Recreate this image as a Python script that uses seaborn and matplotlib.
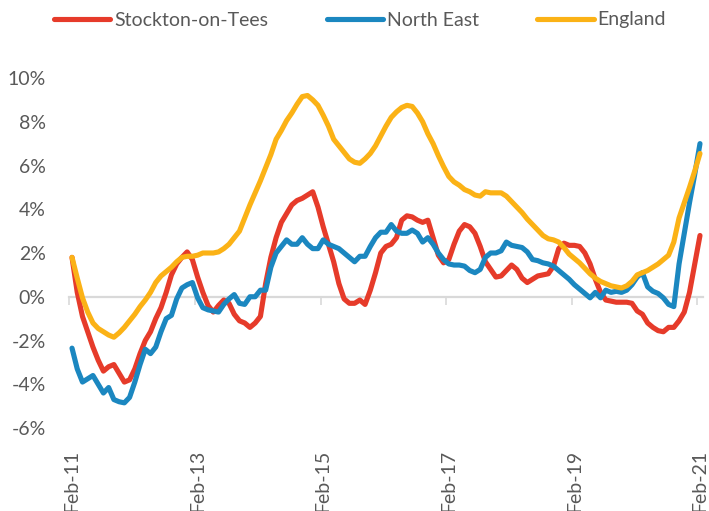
import matplotlib
matplotlib.use("Agg")
import matplotlib.pyplot as plt
import numpy as np
import pandas as pd
import seaborn as sns

# ---------------- data (monthly, Feb-11 .. Feb-21), % annual change ----------------
stockton = [
    1.8, 0.2, -0.9, -1.6, -2.3, -2.9, -3.4, -3.2, -3.1, -3.5,
    -3.9, -3.8, -3.3, -2.6, -2.0, -1.6, -1.0, -0.5, 0.2, 1.0,
    1.5, 1.8, 2.05, 1.7, 0.9, 0.2, -0.4, -0.7, -0.4, -0.15,
    -0.3, -0.8, -1.1, -1.2, -1.4, -1.2, -0.9, 0.6, 1.8, 2.7,
    3.4, 3.8, 4.2, 4.4, 4.5, 4.65, 4.8, 4.1, 3.2, 2.4,
    1.6, 0.6, -0.1, -0.3, -0.3, -0.15, -0.35, 0.3, 1.1, 2.0,
    2.3, 2.4, 2.7, 3.5, 3.7, 3.65, 3.5, 3.4, 3.5, 2.7,
    1.9, 1.55, 1.7, 2.4, 3.0, 3.3, 3.2, 2.9, 2.3, 1.6,
    1.25, 0.9, 0.95, 1.2, 1.45, 1.25, 0.85, 0.65, 0.8, 0.95,
    1.0, 1.05, 1.4, 2.2, 2.45, 2.35, 2.35, 2.3, 2.0, 1.5,
    0.8, 0.2, -0.15, -0.2, -0.25, -0.25, -0.25, -0.3, -0.65, -0.8,
    -1.2, -1.4, -1.55, -1.6, -1.4, -1.4, -1.1, -0.7, 0.2, 1.5,
    2.8,
]
north_east = [
    -2.35, -3.3, -3.9, -3.75, -3.6, -4.0, -4.4, -4.15, -4.7, -4.8,
    -4.85, -4.6, -3.9, -3.1, -2.4, -2.6, -2.3, -1.6, -1.0, -0.85,
    -0.1, 0.4, 0.55, 0.65, -0.05, -0.5, -0.6, -0.65, -0.7, -0.35,
    -0.1, 0.1, -0.3, -0.35, 0.0, 0.0, 0.3, 0.3, 1.35, 2.0,
    2.3, 2.6, 2.4, 2.4, 2.7, 2.4, 2.2, 2.2, 2.6, 2.4,
    2.3, 2.2, 2.0, 1.8, 1.6, 1.85, 1.85, 2.3, 2.7, 2.95,
    2.95, 3.3, 3.0, 2.9, 2.9, 3.05, 2.9, 2.5, 2.7, 2.4,
    2.0, 1.7, 1.5, 1.45, 1.45, 1.4, 1.2, 1.1, 1.25, 1.8,
    2.0, 2.0, 2.1, 2.5, 2.35, 2.3, 2.25, 2.05, 1.7, 1.65,
    1.55, 1.5, 1.4, 1.2, 1.0, 0.8, 0.55, 0.35, 0.15, -0.05,
    0.2, -0.05, 0.3, 0.2, 0.25, 0.2, 0.3, 0.55, 0.9, 1.1,
    0.45, 0.25, 0.15, -0.05, -0.35, -0.45, 1.5, 2.9, 4.3, 5.6,
    7.0,
]
england = [
    1.8, 0.85, -0.05, -0.7, -1.2, -1.45, -1.6, -1.75, -1.85, -1.65,
    -1.4, -1.1, -0.8, -0.45, -0.15, 0.2, 0.65, 0.95, 1.15, 1.35,
    1.6, 1.8, 1.85, 1.85, 1.9, 2.0, 2.0, 2.0, 2.05, 2.2,
    2.4, 2.7, 3.0, 3.6, 4.2, 4.75, 5.3, 5.9, 6.5, 7.2,
    7.6, 8.05, 8.4, 8.8, 9.15, 9.2, 9.0, 8.75, 8.3, 7.8,
    7.2, 6.9, 6.6, 6.3, 6.15, 6.1, 6.3, 6.55, 6.9, 7.35,
    7.8, 8.2, 8.45, 8.65, 8.75, 8.7, 8.4, 8.0, 7.45, 7.0,
    6.45, 5.95, 5.5, 5.25, 5.1, 4.9, 4.8, 4.65, 4.6, 4.8,
    4.75, 4.75, 4.75, 4.6, 4.35, 4.1, 3.85, 3.55, 3.3, 3.05,
    2.8, 2.65, 2.6, 2.5, 2.25, 1.95, 1.75, 1.55, 1.3, 1.05,
    0.85, 0.7, 0.6, 0.5, 0.45, 0.4, 0.5, 0.7, 1.0, 1.1,
    1.2, 1.35, 1.5, 1.7, 1.9, 2.5, 3.6, 4.3, 5.0, 5.75,
    6.55,
]
series_names = ["Stockton-on-Tees", "North East", "England"]
series_colors = ["#E63B2A", "#1B87C0", "#FBB216"]
x_tick_labels = ["Feb-11", "Feb-13", "Feb-15", "Feb-17", "Feb-19", "Feb-21"]
y_ticks = [-6, -4, -2, 0, 2, 4, 6, 8, 10]

# ---------------- build frame ----------------
n = len(stockton)
wide = pd.DataFrame({"month": np.arange(n),
                     series_names[0]: stockton,
                     series_names[1]: north_east,
                     series_names[2]: england})
df = wide.melt(id_vars="month", var_name="Area", value_name="Change")

sns.set_theme(style="white")
plt.rcParams["font.family"] = ["Lato", "DejaVu Sans"]
TXT = "#595959"
GRID = "#D9D9D9"
FS = 14

W, H = 709, 511
fig = plt.figure(figsize=(W / 100, H / 100), dpi=100)
left_px, right_px, top_px, bot_px = 69.4, 702.6, 78, 428
ax = fig.add_axes([left_px / W, 1 - bot_px / H,
                   (right_px - left_px) / W, (bot_px - top_px) / H])

sns.lineplot(data=df, x="month", y="Change", hue="Area",
             hue_order=series_names, palette=series_colors,
             linewidth=3.7, legend=False, ax=ax,
             solid_capstyle="round", solid_joinstyle="round")

ax.set_xlim(-0.5, n - 0.5)
ax.set_ylim(-6, 10)
for s in ax.spines.values():
    s.set_visible(False)
ax.set_xlabel("")
ax.set_ylabel("")

# y axis
ax.set_yticks(y_ticks)
ax.set_yticklabels([f"{v}%" for v in y_ticks])
ax.tick_params(axis="y", length=0, pad=17, labelsize=FS, labelcolor=TXT)

# x axis labels at bottom
label_pos = np.arange(0, n, 24)
ax.set_xticks(label_pos)
ax.set_xticklabels(x_tick_labels, rotation=90)
ax.tick_params(axis="x", length=0, pad=16, labelsize=FS, labelcolor=TXT)

# category axis line at zero with tick marks between categories
zero_frac = (0 - (-6)) / (10 - (-6))
sec = ax.secondary_xaxis(zero_frac)
sec.spines["bottom"].set_color(GRID)
sec.spines["bottom"].set_linewidth(1.6)
sec.set_xticks(label_pos - 0.5)
sec.tick_params(axis="x", length=5.5, width=1.2, color=GRID,
                labelbottom=False, labeltop=False, direction="out")

# legend
handles = [plt.Line2D([], [], color=c, linewidth=3.7, solid_capstyle="round")
           for c in series_colors]
fig.legend(handles, series_names, loc="center",
           bbox_to_anchor=(360 / W, 1 - 20 / H), ncol=3, frameon=False,
           fontsize=FS, labelcolor=TXT, handlelength=2.9, handletextpad=0.2,
           columnspacing=3.0, borderaxespad=0)

fig.savefig("out.png", dpi=100)
